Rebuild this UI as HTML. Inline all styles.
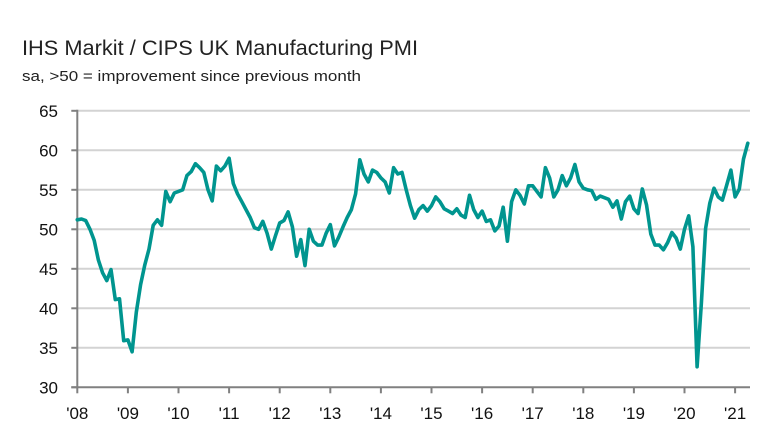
<!DOCTYPE html>
<html><head><meta charset="utf-8"><style>
html,body{margin:0;padding:0;background:#fff;}
svg{display:block;font-family:"Liberation Sans",sans-serif;}
</style></head><body>
<svg id="chart" width="771" height="443" viewBox="0 0 771 443">
<text x="22" y="55" font-size="21" fill="#222" textLength="396" lengthAdjust="spacingAndGlyphs">IHS Markit / CIPS UK Manufacturing PMI</text>
<text x="22" y="81" font-size="15" fill="#222" textLength="339" lengthAdjust="spacingAndGlyphs">sa, &gt;50 = improvement since previous month</text>
<g id="grid"></g><g id="axes"></g><g id="series"></g>
</svg>
<script>
const yTicks=[30,35,40,45,50,55,60,65];
const xTickLabels=["'08","'09","'10","'11","'12","'13","'14","'15","'16","'17","'18","'19","'20","'21"];
const pmi2008=[51.2,51.3,51.1,50.0,48.6,46.1,44.5,43.5,44.9,41.1,41.2,35.9];
const pmi2009=[36.0,34.5,39.5,43.0,45.5,47.5,50.5,51.2,50.5,54.8,53.5,54.6];
const pmi2010=[54.8,55.0,56.8,57.3,58.3,57.8,57.2,55.0,53.6,58.0,57.4,58.0];
const pmi2011=[59.0,55.8,54.5,53.5,52.5,51.5,50.2,50.0,51.0,49.5,47.5,49.2];
const pmi2012=[50.8,51.1,52.2,50.3,46.6,48.7,45.4,50.0,48.5,48.0,48.0,49.5];
const pmi2013=[50.6,47.9,49.0,50.3,51.5,52.5,54.5,58.8,57.0,56.0,57.5,57.2];
const pmi2014=[56.5,56.0,54.6,57.8,57.0,57.2,55.0,53.0,51.4,52.5,53.0,52.3];
const pmi2015=[53.0,54.1,53.5,52.6,52.3,52.0,52.6,51.8,51.5,54.3,52.5,51.5];
const pmi2016=[52.3,51.0,51.2,49.8,50.4,52.8,48.5,53.5,55.0,54.3,53.2,55.5];
const pmi2017=[55.5,54.8,54.1,57.8,56.5,54.1,55.0,56.8,55.5,56.5,58.2,56.0];
const pmi2018=[55.2,55.0,54.9,53.8,54.2,54.0,53.8,52.8,53.6,51.3,53.5,54.2];
const pmi2019=[52.6,52.0,55.1,53.1,49.4,48.0,48.0,47.4,48.3,49.6,48.9,47.5];
const pmi2020=[50.0,51.7,47.8,32.6,40.7,50.1,53.3,55.2,54.1,53.7,55.6,57.5];
const pmi2021=[54.1,55.1,58.9,60.9];
const values=[].concat(pmi2008,pmi2009,pmi2010,pmi2011,pmi2012,pmi2013,pmi2014,pmi2015,pmi2016,pmi2017,pmi2018,pmi2019,pmi2020,pmi2021);

const NS="http://www.w3.org/2000/svg";
const X0=77.3,PXM=50.6/12,Y30=387.3,PXU=7.9,XR=750;
function xScale(m){return X0+m*PXM;}
function yScale(v){return Y30-(v-30)*PXU;}
function mk(tag,attrs,parent){const e=document.createElementNS(NS,tag);for(const k in attrs)e.setAttribute(k,attrs[k]);parent.appendChild(e);return e;}
const grid=document.getElementById('grid'),axes=document.getElementById('axes'),series=document.getElementById('series');
yTicks.forEach(function(t){
  const y=yScale(t);
  if(t>30){const g=mk('line',{x1:X0,x2:XR,y1:y,y2:y,stroke:'#d3d3d3','stroke-width':2},grid);
  
  }
  const tk=mk('line',{x1:X0-6,x2:X0,y1:y,y2:y,stroke:'#808080','stroke-width':2},axes);
  
  
  const lb=mk('text',{x:58,y:y+6,'text-anchor':'end','font-size':17,fill:'#111'},axes);
  lb.textContent=t;
  
  
});
const ya=mk('line',{x1:X0,x2:X0,y1:yScale(65)-1,y2:Y30+1,stroke:'#808080','stroke-width':2},axes);


const xa=mk('line',{x1:X0-6,x2:XR,y1:Y30,y2:Y30,stroke:'#808080','stroke-width':2},axes);


xTickLabels.forEach(function(l,i){
  const x=xScale(i*12);
  const tk=mk('line',{x1:x,x2:x,y1:Y30,y2:Y30+6,stroke:'#808080','stroke-width':2},axes);
  
  
  const lb=mk('text',{x:x,y:419,'text-anchor':'middle','font-size':17,fill:'#111'},axes);
  lb.textContent=l;
  
  
});
const pts=values.map(function(v,i){return xScale(i).toFixed(1)+','+yScale(v).toFixed(1);}).join(' ');
const line=mk('polyline',{points:pts,fill:'none',stroke:'#00958f','stroke-width':3.6,'stroke-linejoin':'round','stroke-linecap':'round'},series);


</script>
</body></html>
